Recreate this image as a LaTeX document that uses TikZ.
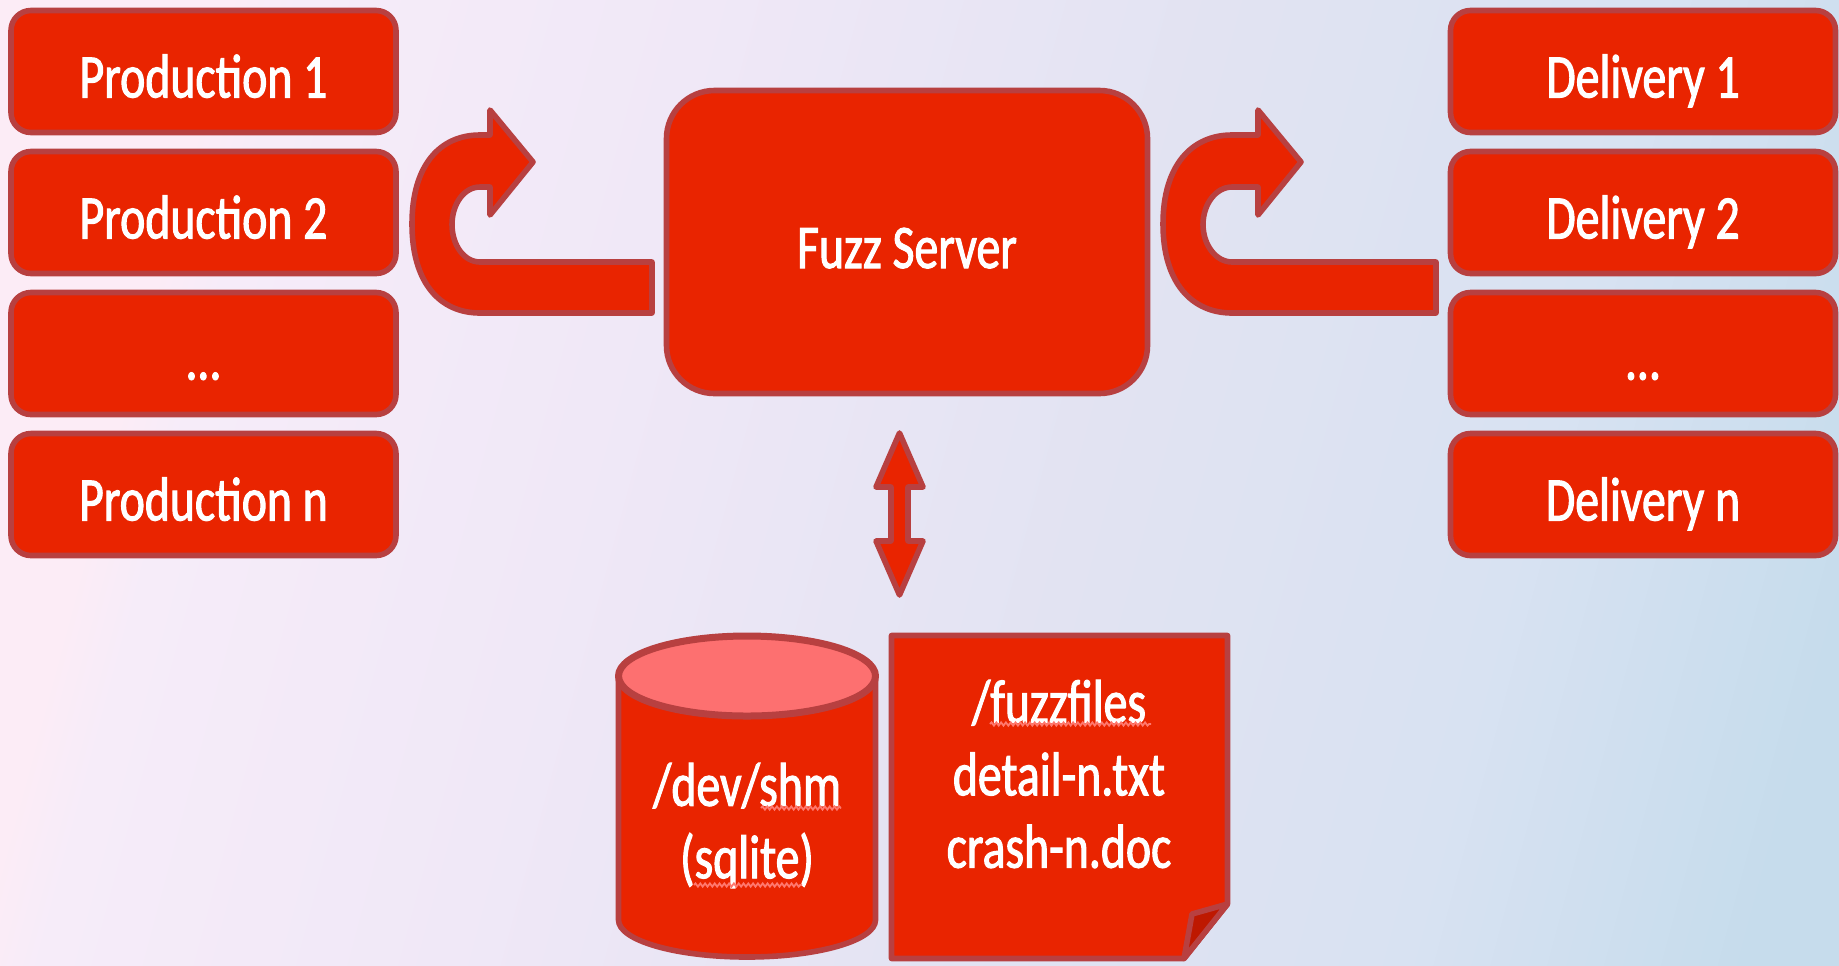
\documentclass[tikz,border=0pt]{standalone}
\usepackage{fontspec}
\setmainfont[FakeStretch=0.77,FakeBold=1.6]{Carlito}
\usetikzlibrary{decorations.pathmorphing}
\definecolor{boxred}{RGB}{233,36,0}
\definecolor{edgered}{RGB}{184,64,64}
\definecolor{lidred}{RGB}{253,112,112}
\definecolor{foldred}{RGB}{190,24,0}
\definecolor{wavyred}{RGB}{255,120,110}
\definecolor{bgpink}{RGB}{252,236,246}
\definecolor{bgviolet}{RGB}{246,236,249}
\definecolor{bglilac}{RGB}{240,232,247}
\definecolor{bgmid}{RGB}{226,227,242}
\definecolor{bgpale}{RGB}{216,226,242}
\definecolor{bgblue}{RGB}{198,220,236}
\pgfdeclarehorizontalshading{bgshade}{100bp}{
	color(0bp)=(bgpink);
	color(26bp)=(bgpink);
	color(28bp)=(bgviolet);
	color(40bp)=(bglilac);
	color(55bp)=(bgmid);
	color(68bp)=(bgpale);
	color(78bp)=(bgblue);
	color(100bp)=(bgblue)}

\begin{document}
\begin{tikzpicture}[x=0.5pt, y=-0.5pt,
	hostbox/.style={
		draw=edgered,
		fill=boxred,
		line width=2.8pt,
		rounded corners=10pt,
		minimum width=192.5pt,
		minimum height=61pt,
		text height=26pt,
		text depth=0pt,
		inner sep=0pt,
		text=white,
		font=\fontsize{31}{34}\selectfont},
	blockarrow/.style={
		draw=edgered,
		fill=boxred,
		line width=2.8pt,
		line join=round},
	label/.style={
		text=white,
		align=center,
		font=\fontsize{31}{36.2}\selectfont},
	spell/.style={
		draw=wavyred,
		line width=0.9pt,
		decorate,
		decoration={snake,amplitude=0.8pt,segment length=2.4pt}}]
	% fix the page and draw the background
	\path[use as bounding box] (0,0) rectangle (1839,965);
	\shade[shading=bgshade, shading angle=-15] (0,0) rectangle (1839,965);
	% draw production and delivery boxes
	\foreach \t [count=\step from 1] in {Production 1, Production 2, \ldots, Production n}
	\node[hostbox] (p\step) at (203.5, 71.5+141*\step-141) {\t};
	\foreach \t [count=\step from 1] in {Delivery 1, Delivery 2, \ldots, Delivery n} {
		\node[hostbox] (d\step) at (1643, 71.5+141*\step-141) {\t};
	}
	% draw server
	\node[hostbox, rounded corners=24pt, minimum width=240.5pt, minimum height=151.5pt] (server) at (907, 242) {Fuzz Server};
	% draw turning arrows
	\draw[blockarrow] (652,262) -- (480,262) .. controls (464,262) and (452,245) .. (452,224.5)
		.. controls (452,204) and (464,187) .. (480,187)
		-- (490,187) -- (490,215) -- (533,162) -- (490,110) -- (490,135) -- (480,135)
		.. controls (440,135) and (412,165) .. (412,224) .. controls (412,283) and (440,313) .. (480,313)
		-- (652,313) -- cycle;
	\draw[blockarrow] (1436,262) -- (1232,262) .. controls (1216,262) and (1203,245) .. (1203,224.5)
		.. controls (1203,204) and (1216,187) .. (1232,187)
		-- (1258,187) -- (1258,215) -- (1301,162) -- (1258,110) -- (1258,135) -- (1232,135)
		.. controls (1192,135) and (1163,165) .. (1163,224) .. controls (1163,283) and (1192,313) .. (1232,313)
		-- (1436,313) -- cycle;
	% draw link to the storage
	\draw[blockarrow] (899.5,433) -- (923,487) -- (908,487) -- (908,541) -- (923,541) -- (899.5,595)
		-- (876,541) -- (891,541) -- (891,487) -- (876,487) -- cycle;
	% draw database
	\draw[blockarrow] (618.5,676) -- (618.5,920) arc[start angle=180, end angle=0, x radius=128.5, y radius=37]
		-- (875.5,676) -- cycle;
	\draw[blockarrow, fill=lidred, line width=3.5pt] (747,676) ellipse[x radius=128.5, y radius=40];
	\node[label] (shm) at (747, 825.5) {/dev/shm\\(sqlite)};
	% draw file sheet
	\draw[blockarrow] (891.5,635.5) -- (1227.5,635.5) -- (1227.5,904) -- (1184,958.5) -- (891.5,958.5) -- cycle;
	\draw[blockarrow, fill=foldred] (1227.5,904) -- (1192,914) -- (1184,958.5) -- cycle;
	\node[label] (files) at (1059, 774) {/fuzzfiles\\detail-n.txt\\crash-n.doc};
	% draw spelling marks
	\draw[spell] (990,724) -- (1151,724);
	\draw[spell] (761,808) -- (841,808);
	\draw[spell] (694,885) -- (802,885);
\end{tikzpicture}
\end{document}
